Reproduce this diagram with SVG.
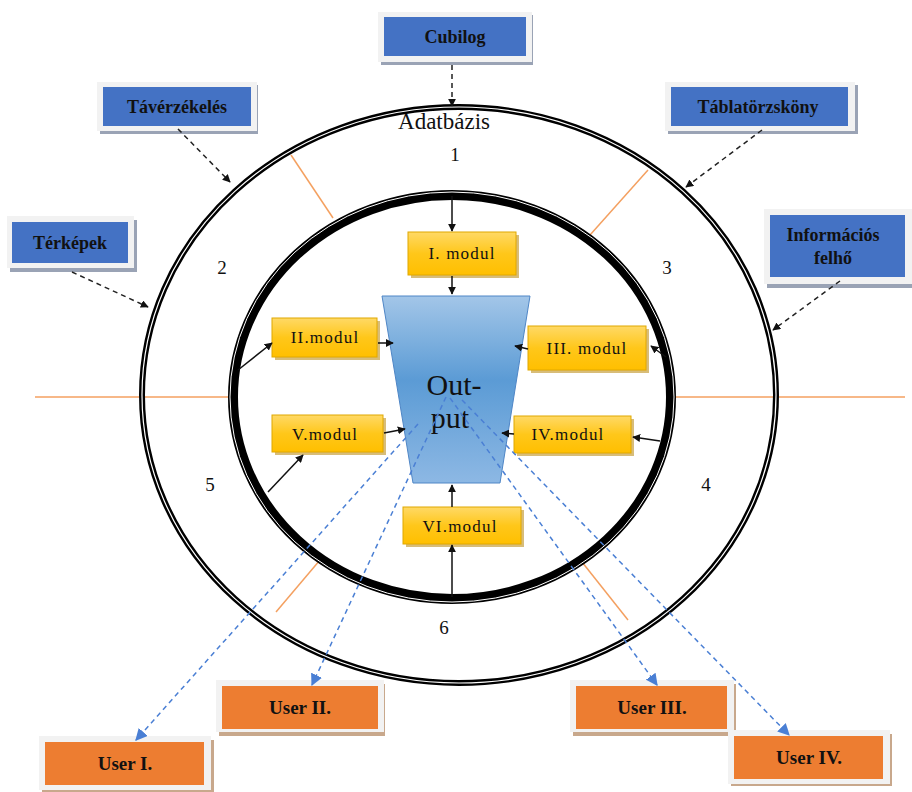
<svg xmlns="http://www.w3.org/2000/svg" width="912" height="792" viewBox="0 0 912 792">
<defs>
<style>
.lbl{font-family:"Liberation Serif","DejaVu Serif",serif;font-weight:bold;font-size:18px;fill:#111;text-anchor:middle}
.ulbl{font-family:"Liberation Serif","DejaVu Serif",serif;font-weight:bold;font-size:19px;fill:#111;text-anchor:middle}
.mod{font-family:"Liberation Serif","DejaVu Serif",serif;font-size:17px;letter-spacing:1.2px;fill:#111;text-anchor:middle}
.num{font-family:"Liberation Serif","DejaVu Serif",serif;font-size:19px;fill:#111;text-anchor:middle}
.frame{fill:#f2f2f2}
.shB{fill:#9aa3b5}
.shO{fill:#c8a88c}
.blue{fill:#4472c4}
.orange{fill:#ed7d31}
.ymod{fill:url(#yg);stroke:#e0a800;stroke-width:1}
.ysh{fill:#b8860b;opacity:0.55}
.dash{stroke:#222;stroke-width:1.5;stroke-dasharray:5,4;fill:none}
.solid{stroke:#111;stroke-width:1.5;fill:none}
.bdash{stroke:#4a7fd4;stroke-width:1.5;stroke-dasharray:5,4;fill:none}
.org{stroke:#f4a060;stroke-width:1.5;fill:none}
</style>
<linearGradient id="yg" x1="0" y1="0" x2="0" y2="1">
<stop offset="0" stop-color="#ffd966"/>
<stop offset="0.5" stop-color="#ffc71a"/>
<stop offset="1" stop-color="#ffbf00"/>
</linearGradient>
<linearGradient id="tg" x1="0" y1="0" x2="0" y2="1">
<stop offset="0" stop-color="#a3c6e8"/>
<stop offset="0.45" stop-color="#5b9bd5"/>
<stop offset="1" stop-color="#8db8e4"/>
</linearGradient>
<marker id="ak" viewBox="0 0 10 10" refX="9" refY="5" markerWidth="8" markerHeight="8" orient="auto" markerUnits="userSpaceOnUse">
<path d="M0,0 L10,5 L0,10 z" fill="#111"/>
</marker>
<marker id="ab" viewBox="0 0 10 10" refX="9" refY="5" markerWidth="12" markerHeight="12" orient="auto" markerUnits="userSpaceOnUse">
<path d="M0,0 L10,5 L0,10 z" fill="#4a7fd4"/>
</marker>
</defs>
<rect width="912" height="792" fill="#fff"/>

<g id="rings">
<line class="org" x1="35" y1="397" x2="234" y2="397"/>
<line class="org" x1="672" y1="397" x2="905" y2="397"/>
<line class="org" x1="291" y1="155" x2="333" y2="218"/>
<line class="org" x1="648" y1="170" x2="590" y2="235"/>
<line class="org" x1="320" y1="560" x2="276" y2="612"/>
<line class="org" x1="582" y1="562" x2="628" y2="620"/>
<ellipse cx="459" cy="395" rx="317" ry="288" fill="none" stroke="#000" stroke-width="6"/>
<ellipse cx="459" cy="395" rx="317" ry="288" fill="none" stroke="#fff" stroke-width="1.2"/>
<ellipse cx="452" cy="397" rx="219" ry="202" fill="none" stroke="#000" stroke-width="10"/>
<ellipse cx="452" cy="397" rx="222" ry="205" fill="none" stroke="#fff" stroke-width="1"/>
<text x="444" y="129" class="num" style="font-size:23px">Adatbázis</text>
<text x="455" y="161" class="num">1</text>
<text x="222" y="274" class="num">2</text>
<text x="667" y="274" class="num">3</text>
<text x="706" y="491" class="num">4</text>
<text x="210" y="491" class="num">5</text>
<text x="444" y="634" class="num">6</text>
</g>

<g id="output">
<polygon points="382,296 530,296 500,483 413,483" fill="url(#tg)" stroke="#4f86c6" stroke-width="1"/>
<text x="454" y="395" style="font-family:'Liberation Serif','DejaVu Serif',serif;font-size:30px;fill:#111;text-anchor:middle">Out-</text>
<text x="450" y="428" style="font-family:'Liberation Serif','DejaVu Serif',serif;font-size:30px;fill:#111;text-anchor:middle">put</text>
</g>

<g id="cubilog">
<rect x="381" y="15" width="152" height="50" class="shB"/>
<rect x="378" y="12" width="154" height="50" class="frame"/>
<rect x="384" y="17" width="142" height="39" class="blue"/>
<text x="455" y="43" class="lbl">Cubilog</text>
</g>
<g id="taverzekeles">
<rect x="100" y="85" width="158" height="49" class="shB"/>
<rect x="97" y="82" width="160" height="49" class="frame"/>
<rect x="103" y="87" width="148" height="39" class="blue"/>
<text x="177" y="113" class="lbl">Távérzékelés</text>
</g>
<g id="tablatorzskony">
<rect x="668" y="85" width="190" height="49" class="shB"/>
<rect x="665" y="82" width="190" height="49" class="frame"/>
<rect x="671" y="87" width="177" height="39" class="blue"/>
<text x="758" y="113" class="lbl">Táblatörzsköny</text>
</g>
<g id="terkepek">
<rect x="10" y="220" width="127" height="52" class="shB"/>
<rect x="7" y="216" width="127" height="52" class="frame"/>
<rect x="12" y="222" width="116" height="41" class="blue"/>
<text x="70" y="249" class="lbl">Térképek</text>
</g>
<g id="informacios">
<rect x="767" y="213" width="145" height="75" class="shB"/>
<rect x="764" y="209" width="148" height="75" class="frame"/>
<rect x="770" y="215" width="135" height="62" class="blue"/>
<text x="833" y="241" class="lbl">Információs</text>
<text x="833" y="264" class="lbl">felhő</text>
</g>

<g id="mod1"><rect x="411" y="235" width="108" height="43" class="ysh"/><rect x="408" y="232" width="108" height="43" class="ymod"/><text x="462" y="259" class="mod">I. modul</text></g>
<g id="mod2"><rect x="275" y="321" width="105" height="39" class="ysh"/><rect x="272" y="318" width="105" height="39" class="ymod"/><text x="325" y="343" class="mod">II.modul</text></g>
<g id="mod3"><rect x="531" y="329" width="118" height="44" class="ysh"/><rect x="528" y="326" width="118" height="44" class="ymod"/><text x="587" y="354" class="mod">III. modul</text></g>
<g id="mod4"><rect x="517" y="419" width="117" height="37" class="ysh"/><rect x="514" y="416" width="117" height="37" class="ymod"/><text x="568" y="440" class="mod">IV.modul</text></g>
<g id="mod5"><rect x="275" y="418" width="111" height="37" class="ysh"/><rect x="272" y="415" width="111" height="37" class="ymod"/><text x="325" y="440" class="mod">V.modul</text></g>
<g id="mod6"><rect x="406" y="510" width="118" height="37" class="ysh"/><rect x="403" y="507" width="118" height="37" class="ymod"/><text x="460" y="532" class="mod">VI.modul</text></g>

<g id="user1">
<rect x="42" y="740" width="172" height="52" class="shO"/>
<rect x="39" y="736" width="172" height="54" class="frame"/>
<rect x="45" y="742" width="159" height="43" class="orange"/>
<text x="125" y="770" class="ulbl">User I.</text>
</g>
<g id="user2">
<rect x="219" y="684" width="166" height="52" class="shO"/>
<rect x="216" y="680" width="168" height="52" class="frame"/>
<rect x="222" y="686" width="156" height="43" class="orange"/>
<text x="300" y="714" class="ulbl">User II.</text>
</g>
<g id="user3">
<rect x="573" y="684" width="163" height="52" class="shO"/>
<rect x="570" y="680" width="164" height="52" class="frame"/>
<rect x="576" y="686" width="151" height="43" class="orange"/>
<text x="652" y="714" class="ulbl">User III.</text>
</g>
<g id="user4">
<rect x="731" y="734" width="161" height="52" class="shO"/>
<rect x="728" y="730" width="162" height="54" class="frame"/>
<rect x="734" y="736" width="149" height="43" class="orange"/>
<text x="809" y="764" class="ulbl">User IV.</text>
</g>

<g id="connectors">
<line class="dash" x1="452" y1="65" x2="452" y2="106" marker-end="url(#ak)"/>
<line class="dash" x1="178" y1="129" x2="230" y2="182" marker-end="url(#ak)"/>
<line class="dash" x1="762" y1="130" x2="686" y2="187" marker-end="url(#ak)"/>
<line class="dash" x1="72" y1="272" x2="148" y2="307" marker-end="url(#ak)"/>
<line class="dash" x1="840" y1="281" x2="773" y2="330" marker-end="url(#ak)"/>

<line class="solid" x1="452" y1="196" x2="452" y2="231" marker-end="url(#ak)"/>
<line class="solid" x1="452" y1="276" x2="452" y2="294" marker-end="url(#ak)"/>
<line class="solid" x1="238" y1="370" x2="272" y2="343" marker-end="url(#ak)"/>
<line class="solid" x1="378" y1="343" x2="393" y2="343" marker-end="url(#ak)"/>
<line class="solid" x1="268" y1="492" x2="303" y2="455" marker-end="url(#ak)"/>
<line class="solid" x1="384" y1="433" x2="405" y2="429" marker-end="url(#ak)"/>
<line class="solid" x1="528" y1="349" x2="515" y2="346" marker-end="url(#ak)"/>
<line class="solid" x1="666" y1="357" x2="651" y2="346" marker-end="url(#ak)"/>
<line class="solid" x1="514" y1="434" x2="502" y2="433" marker-end="url(#ak)"/>
<line class="solid" x1="660" y1="441" x2="633" y2="437" marker-end="url(#ak)"/>
<line class="solid" x1="452" y1="507" x2="452" y2="485" marker-end="url(#ak)"/>
<line class="solid" x1="452" y1="597" x2="452" y2="545" marker-end="url(#ak)"/>

<line class="bdash" x1="418" y1="424" x2="136" y2="740" marker-end="url(#ab)"/>
<line class="bdash" x1="446" y1="397" x2="312" y2="685" marker-end="url(#ab)"/>
<line class="bdash" x1="450" y1="398" x2="657" y2="685" marker-end="url(#ab)"/>
<line class="bdash" x1="462" y1="400" x2="789" y2="735" marker-end="url(#ab)"/>
</g>
</svg>
